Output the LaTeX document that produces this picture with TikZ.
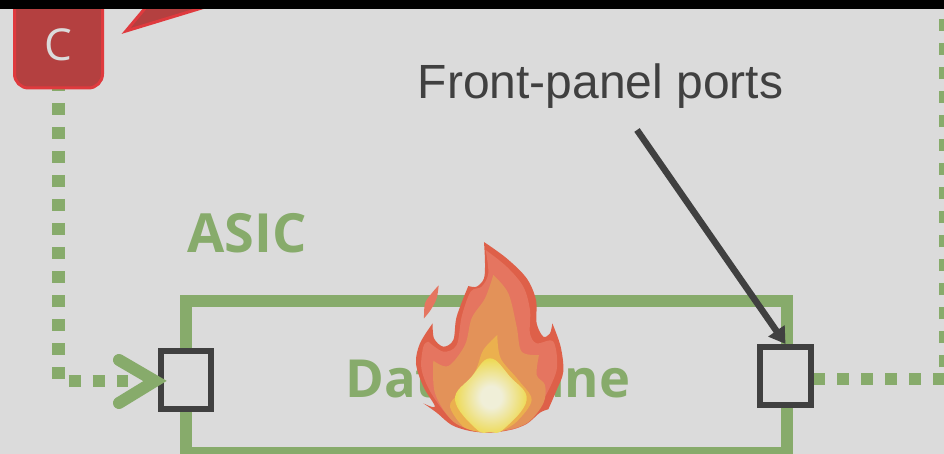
\documentclass[tikz,border=0pt]{standalone}
\usepackage{fontspec}
\setmainfont{Open Sans}
\newfontfamily\labelfont{Liberation Sans}
\usetikzlibrary{arrows.meta}
\definecolor{bgc}{HTML}{DBDBDB}
\definecolor{grn}{HTML}{87AB6B}
\definecolor{ink}{HTML}{404040}
\definecolor{redf}{HTML}{B44040}
\definecolor{reds}{HTML}{DF3A3E}
\definecolor{fa}{HTML}{DE6049}
\definecolor{fb}{HTML}{E57560}
\definecolor{fc}{HTML}{E39259}
\definecolor{fd}{HTML}{EBB04E}
\definecolor{fe}{HTML}{EDD84A}
\definecolor{ff}{HTML}{F0EFD8}
\pgfdeclareradialshading{flameglow}{\pgfpointorigin}{
  color(0bp)=(ff); color(7bp)=(ff); color(26bp)=(fe); color(42bp)=(fd); color(50bp)=(fd)}
\tikzset{
  portbox/.style={draw=ink,fill=bgc,line width=6pt,rectangle,inner sep=0pt},
  dotline/.style={draw=grn,line width=12.5pt,dash pattern=on 12pt off 12pt},
  greenlabel/.style={text=grn,inner sep=0pt,anchor=base west},
  redbox/.style={rectangle,rounded corners=14pt,draw=reds,fill=redf,line width=3pt,minimum width=88pt,minimum height=106pt,inner sep=0pt},
  sm/.style={smooth,tension=.55}
}
\begin{document}
\begin{tikzpicture}[x=1pt,y=-1pt]
\useasboundingbox (0,0) rectangle (944,454);
\clip (0,0) rectangle (944,454);
\fill[bgc] (0,0) rectangle (944,454);
% nodes
\node[draw=grn,line width=12pt,rectangle,inner sep=0pt,outer sep=0pt,minimum width=601pt,minimum height=151.5pt] (plane) at (486.5,376.75) {};
\node[greenlabel,font=\bfseries\fontsize{54}{56}\selectfont] (asic) at (187,252) {ASIC};
\node[greenlabel,font=\bfseries\fontsize{52.5}{54}\selectfont] (dplane) at (345,397) {Data plane};
\coordinate (rcorner) at (945,379);
\coordinate (rtop) at (945,0);
\coordinate (lcorner) at (58.5,381);
\coordinate (lend) at (128,381);
\coordinate (ltip) at (155,381);
\coordinate (lup) at (119,360);
\coordinate (ldown) at (119,403);
\coordinate (fpstart) at (637,130);
\coordinate (cfoot) at (58.5,88);
\coordinate (rstart) at (813,379);
% connectors under the boxes
\draw[dotline,dash phase=9pt] (cfoot) -- (lcorner) -- (lend);
\draw[dotline] (rstart) -- (rcorner) -- (rtop);
% boxes
\node[portbox,minimum width=50pt,minimum height=58pt] (pl) at (186,380) {};
\node[portbox,minimum width=51pt,minimum height=58pt] (pr) at (785.5,376) {};
\node[redbox] (cbox) at (58.5,35) {};
\node[text=bgc,font=\fontsize{44}{46}\selectfont,inner sep=0pt] (clabel) at (58.5,45) {C};
\draw[reds,fill=redf,line width=3pt,line join=miter] (126,31) -- (152,0) -- (228,0) -- cycle;
% connectors over the boxes
\draw[grn,line width=12pt,line cap=round,miter limit=10] (lup) -- (ltip) -- (ldown);
\draw[ink,line width=6.5pt,-{Triangle[length=16pt,width=19pt]}] (fpstart) -- (pr.north);
\node[text=ink,font=\labelfont\fontsize{48}{50}\selectfont,inner sep=0pt,anchor=base] (fp) at (600.5,99) {Front-panel ports};
% flame
\begin{scope}[shift={(340,230)},x=0.3333pt,y=-0.3333pt]
\fill[fa] plot[sm] coordinates {(432,36) (500,85) (560,145) (588,210) (590,280) (610,320) (630,310) (637,280)}
  -- plot[sm] coordinates {(637,280) (662,350) (670,425) (650,480) (625,538)}
  -- plot[sm] coordinates {(625,538) (600,548) (560,582) (510,600) (450,608) (390,603) (335,585) (290,548) (250,520)}
  -- plot[sm] coordinates {(250,520) (285,530) (250,470) (228,400) (240,340) (278,280)}
  -- plot[sm] coordinates {(278,280) (282,325) (310,350) (340,330) (350,260) (385,168)}
  -- plot[sm] coordinates {(385,168) (410,170) (432,145) (435,95) (432,36)} -- cycle;
\fill[fb] plot[sm] coordinates {(437,60) (500,110) (550,170) (570,240) (570,310) (590,340) (640,335) (650,420) (610,510)}
  -- plot[sm] coordinates {(610,510) (540,590) (450,600) (350,580) (280,500) (245,420) (250,350) (265,335)}
  -- plot[sm] coordinates {(265,335) (310,365) (350,345) (365,260) (392,185) (425,170) (445,130) (437,60)} -- cycle;
\fill[fc] plot[sm] coordinates {(460,135) (505,190) (530,290) (545,365) (597,375)}
  -- plot[sm] coordinates {(597,375) (590,435) (615,465) (610,520) (560,580) (480,604) (420,606) (340,575) (285,490) (280,392)}
  -- plot[sm] coordinates {(280,392) (325,408) (375,345) (395,265) (435,205) (460,135)} -- cycle;
\fill[fd] plot[sm] coordinates {(472,315) (482,385) (535,450) (575,510) (530,575) (480,606)}
  -- (420,606) -- plot[sm] coordinates {(420,606) (370,590) (330,530) (355,490) (405,425) (430,360) (472,315)} -- cycle;
\shade[shading=flameglow] plot[smooth cycle,tension=.7] coordinates {(450,385) (510,440) (560,510) (490,598) (450,606) (410,598) (345,510) (395,440)};
\fill[fb] plot[sm] coordinates {(296,166) (290,205) (272,240) (252,265)} -- plot[sm] coordinates {(252,265) (255,220) (275,190) (296,166)} -- cycle;
\end{scope}
\fill[black] (0,0) rectangle (944,9);
\end{tikzpicture}
\end{document}
